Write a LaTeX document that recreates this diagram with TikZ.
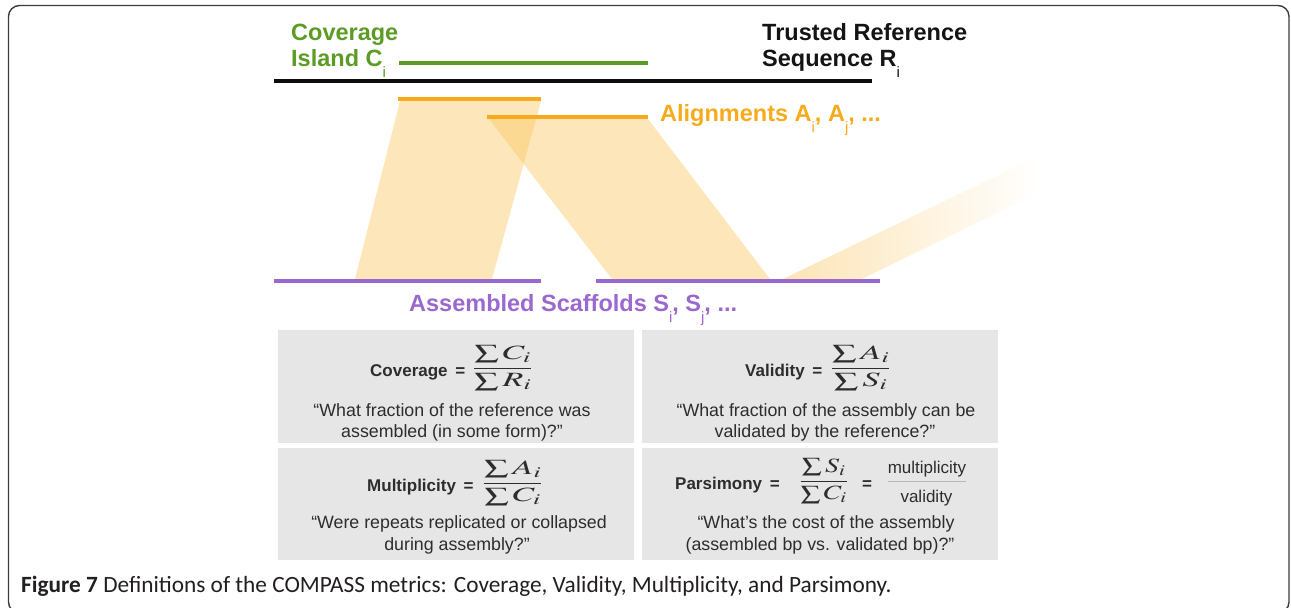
\documentclass[tikz,border=0pt]{standalone}
\usepackage{amsmath}
\usepackage{mathptmx}
\usepackage{graphicx}
\usepackage{fontspec}
\setmainfont{Liberation Sans}
\newfontfamily\capfont{Carlito}
\definecolor{greenc}{RGB}{92,156,36}
\definecolor{orangec}{RGB}{247,170,28}
\definecolor{purplec}{RGB}{155,104,206}
\definecolor{bandc}{RGB}{250,200,100}
\definecolor{bandsolid}{RGB}{252,228,182}
\definecolor{boxgray}{RGB}{230,230,230}
\definecolor{textgray}{RGB}{45,45,45}
\definecolor{framec}{RGB}{60,60,60}
\definecolor{capc}{RGB}{35,31,32}
\newcommand\lsub[1]{\raisebox{-11pt}{\fontsize{15}{15}\selectfont\mdseries #1}}
\newcommand\frc[3][1.5]{\raisebox{3pt}{\scalebox{#1}[0.88]{\fontsize{23}{23}\selectfont$\dfrac{\sum #2}{\sum #3}$}}}
\begin{document}
\begin{tikzpicture}[x=1pt,y=-1pt,
  biglbl/.style={inner sep=0pt, anchor=base west, font=\fontsize{23.5}{26}\selectfont\bfseries},
  seg/.style={line width=4pt},
  band/.style={fill=bandc, fill opacity=0.45, draw=none},
  gbox/.style={fill=boxgray, draw=none, inner sep=0pt, anchor=north west, minimum width=356pt},
  eqlbl/.style={inner sep=0pt, anchor=base west, text=textgray, font=\fontsize{17}{17}\selectfont\bfseries},
  eqfrac/.style={inner sep=0pt, anchor=base west, text=textgray},
  quote/.style={inner sep=0pt, anchor=base, text=textgray, font=\fontsize{17.8}{20}\selectfont},
  ratio/.style={inner sep=0pt, anchor=base, text=textgray, font=\fontsize{17}{17}\selectfont}
]
\useasboundingbox (0,0) rectangle (1291,608);
% frame
\draw[framec, line width=1.4pt, rounded corners=11pt] (8.5,5.5) rectangle (1289,613);

% alignment bands
\fill[band] (400,101) -- (541,101) -- (492,279) -- (355,279) -- cycle;
\fill[band] (489,119) -- (648,119) -- (770,279) -- (612,279) -- cycle;
\shade[left color=bandsolid, middle color=bandsolid!70!white, right color=white]
  (783,279) -- (1038,156) -- (1038,193) -- (862,279) -- cycle;

% labels
\node[biglbl, text=greenc] (cov1) at (291,40) {Coverage};
\node[biglbl, text=greenc] (cov2) at (291,66) {Island C\lsub{i}};
\node[biglbl, text=black!92] (ref1) at (762,40) {Trusted Reference};
\node[biglbl, text=black!92] (ref2) at (762,66) {Sequence R\lsub{i}};
\node[biglbl, text=orangec] (aln) at (660,121) {Alignments A\lsub{i}, A\lsub{j}, ...};
\node[biglbl, text=purplec] (scf) at (409,311) {Assembled Scaffolds S\lsub{i}, S\lsub{j}, ...};

% segments
\draw[seg, greenc] (399,63) -- (648,63);
\draw[seg, black!95] (274,81) -- (872,81);
\draw[seg, orangec] (398,99) -- (541,99);
\draw[seg, orangec] (487,117) -- (648,117);
\draw[seg, purplec] (274,281) -- (541,281);
\draw[seg, purplec] (596,281) -- (880,281);

% metric boxes
\node[gbox, minimum height=113pt] (b1) at (278,330) {};
\node[gbox, minimum height=113pt] (b2) at (642,330) {};
\node[gbox, minimum height=112pt] (b3) at (278,448) {};
\node[gbox, minimum height=112pt] (b4) at (642,448) {};

\node[eqlbl] (l1) at (370,376) {Coverage\hspace{0.45em}=};
\node[eqfrac] (f1) at (472,376) {\frc{C_i}{R_i}};
\node[quote] (q1a) at (452,416) {“What fraction of the reference was};
\node[quote] (q1b) at (452,437) {assembled (in some form)?”};

\node[eqlbl] (l2) at (745,376) {Validity\hspace{0.45em}=};
\node[eqfrac] (f2) at (830,376) {\frc{A_i}{S_i}};
\node[quote] (q2a) at (826,416) {“What fraction of the assembly can be};
\node[quote] (q2b) at (825,437) {validated by the reference?”};

\node[eqlbl] (l3) at (367,491) {Multiplicity\hspace{0.45em}=};
\node[eqfrac] (f3) at (482,491) {\frc{A_i}{C_i}};
\node[quote] (q3a) at (459,528) {“Were repeats replicated or collapsed};
\node[quote] (q3b) at (457,550) {during assembly?”};

\node[eqlbl] (l4) at (675,489) {Parsimony\hspace{0.45em}=};
\node[eqfrac] (f4) at (799,489) {\frc[1.22]{S_i}{C_i}};
\node[eqlbl] (eq4) at (862,489) {=};
\node[ratio] (rm) at (927,473) {multiplicity};
\node[ratio] (rv) at (926.5,502) {validity};
\draw[black!28, line width=1pt] (rm.south west |- 0,481) -- (rm.south east |- 0,481);
\node[quote] (q4a) at (826,528) {“What's the cost of the assembly};
\node[quote] (q4b) at (820,550) {(assembled bp vs. validated bp)?”};

% caption
\node[inner sep=0pt, anchor=base west, text=capc, font=\capfont\fontsize{23.3}{23.3}\selectfont] (cap) at (21,592)
  {\textbf{Figure 7} Definitions of the COMPASS metrics: Coverage, Validity, Multiplicity, and Parsimony.};
\end{tikzpicture}
\end{document}
